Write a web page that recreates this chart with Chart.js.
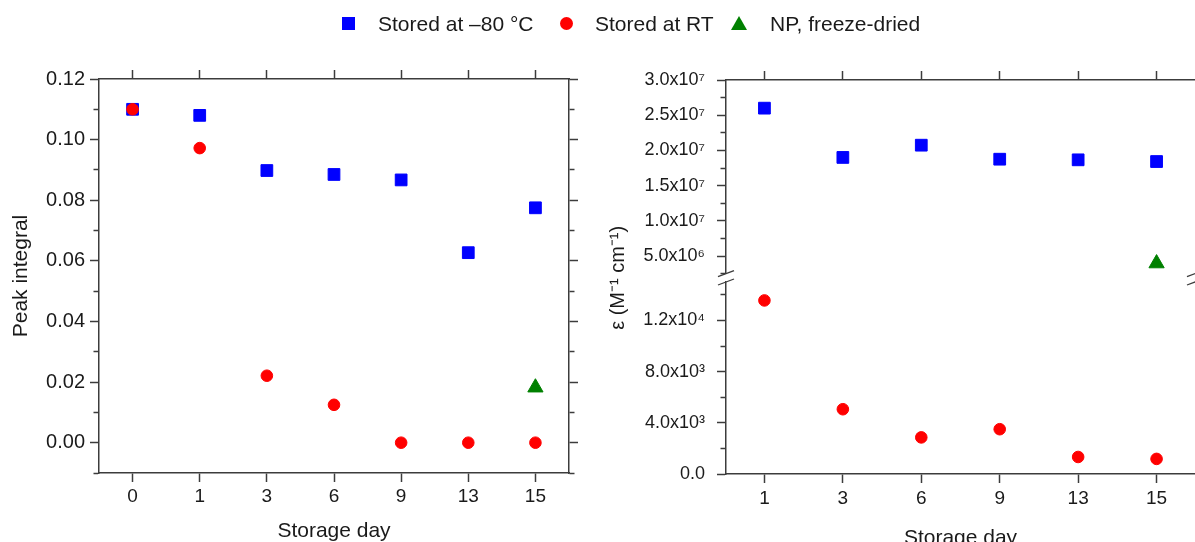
<!DOCTYPE html>
<html>
<head>
<meta charset="utf-8">
<script src="https://cdn.jsdelivr.net/npm/chart.js@4.4.1/dist/chart.umd.min.js"></script>
<style>
  body { margin: 0; background: #fff; }
  #wrap { position: relative; width: 1195px; height: 542px; overflow: hidden; font-family: "Liberation Sans", Arial, sans-serif; color: #1a1a1a; }
  canvas { position: absolute; top: 0; }
  #chartLeft { left: 0; }
  #chartRight { left: 590px; }
  .legend span { position: absolute; white-space: nowrap; }
  .legend .txt { top: 11px; font-size: 21px; line-height: 25px; }
  .legend .sq { left: 342px; top: 17px; width: 13px; height: 13px; background: #0000ff; }
  .legend .dot { left: 560px; top: 17px; width: 13px; height: 13px; border-radius: 50%; background: #ff0000; }
  .legend .tri { left: 731px; top: 16px; width: 0; height: 0; border-left: 8px solid transparent; border-right: 8px solid transparent; border-bottom: 14px solid #008000; }
</style>
</head>
<body>
<div id="wrap">
  <canvas id="chartLeft" width="590" height="542"></canvas>
  <canvas id="chartRight" width="605" height="542"></canvas>
  <div class="legend">
    <span class="sq"></span><span class="txt" style="left:378px">Stored at –80 °C</span>
    <span class="dot"></span><span class="txt" style="left:595px">Stored at RT</span>
    <span class="tri"></span><span class="txt" style="left:770px">NP, freeze-dried</span>
  </div>
</div>
<script>
// left panel: peak integral vs storage day
const leftDays = ['0', '1', '3', '6', '9', '13', '15'];
const peakStored80 = [0.110, 0.108, 0.0898, 0.0885, 0.0867, 0.0627, 0.0775];
const peakStoredRT = [0.110, 0.0972, 0.0221, 0.0125, 0, 0, 0];
const peakFreezeDried = [null, null, null, null, null, null, 0.0182];
const peakTicks = [-0.01, 0, 0.01, 0.02, 0.03, 0.04, 0.05, 0.06, 0.07, 0.08, 0.09, 0.10, 0.11, 0.12];
const peakMajor = [0, 0.02, 0.04, 0.06, 0.08, 0.10, 0.12];
const peakLabels = ['0.00', '0.02', '0.04', '0.06', '0.08', '0.10', '0.12'];

// right panel: extinction coefficient, broken axis
const rightDays = ['1', '3', '6', '9', '13', '15'];
const epsStored80 = [2.60e7, 1.90e7, 2.074e7, 1.875e7, 1.866e7, 1.842e7];
const epsStoredRT = [13560, 5060, 2860, 3500, 1330, 1180];
const epsFreezeDried = [null, null, null, null, null, 3.95e6];
const epsTopTicks = [2.5e6, 5e6, 7.5e6, 1e7, 1.25e7, 1.5e7, 1.75e7, 2e7, 2.25e7, 2.5e7, 2.75e7, 3e7];
const epsTopMajor = [5e6, 1e7, 1.5e7, 2e7, 2.5e7, 3e7];
const epsTopLabels = ['5.0x10⁶', '1.0x10⁷', '1.5x10⁷', '2.0x10⁷', '2.5x10⁷', '3.0x10⁷'];
const epsBotTicks = [0, 2000, 4000, 6000, 8000, 10000, 12000, 14000];
const epsBotMajor = [0, 4000, 8000, 12000];
const epsBotLabels = ['0.0', '4.0x10³', '8.0x10³', '1.2x10⁴'];

const axisColor = '#3c3c3c';
const textColor = '#1a1a1a';
const fontFamily = '"Liberation Sans", Arial, sans-serif';
const colors = { blue: '#0000ff', red: '#ff0000', green: '#008000' };

Chart.defaults.font.family = fontFamily;
Chart.defaults.color = textColor;

const closeTo = (a, b) => Math.abs(a - b) < Math.abs(b) * 1e-6 + 1e-9;

function labelFor(values, labels) {
    return function (value) {
        const i = values.findIndex(v => closeTo(v, value));
        return i < 0 ? '' : labels[i];
    };
}

// minor ticks are drawn shorter with a dash pattern
function minorDash(values, position) {
    return function (ctx) {
        if (!ctx.tick || values.some(v => closeTo(v, ctx.tick.value))) {
            return [];
        }
        return position === 'left' ? [0, 3.5, 6, 50] : [5, 50];
    };
}

function fixSize(size) {
    return function (scale) {
        if (scale.isHorizontal()) { scale.height = size; } else { scale.width = size; }
    };
}

const points = (values) => values
    .map((v, i) => (v === null ? null : { x: i, y: v }))
    .filter(p => p);

function series(label, values, style, color, radius, order, axis) {
    let ds = {
        label: label,
        data: points(values),
        pointStyle: style,
        pointRadius: radius,
        pointHoverRadius: radius,
        pointBackgroundColor: color,
        pointBorderColor: color,
        pointBorderWidth: 1,
        showLine: false,
        order: order
    };
    if (axis) { ds.yAxisID = axis; }
    return ds;
}

function dayAxis(position, days, min, max, size, showLabels, labelPad, titlePad) {
    return {
        type: 'linear',
        position: position,
        min: min,
        max: max,
        afterBuildTicks: (scale) => { scale.ticks = days.map((d, i) => ({ value: i })); },
        afterFit: fixSize(size),
        border: { color: axisColor, width: 1.5 },
        grid: { drawOnChartArea: false, tickLength: 9, tickColor: axisColor, tickWidth: 1.5 },
        ticks: {
            display: showLabels,
            autoSkip: false,
            maxRotation: 0,
            padding: labelPad,
            font: { size: 19 },
            callback: (value) => days[value]
        },
        title: {
            display: showLabels,
            text: 'Storage day',
            font: { size: 21 },
            padding: { top: 0, bottom: titlePad }
        }
    };
}

function valueAxis(position, min, max, tickValues, major, labels, size, tickFont, tickPad, extra) {
    let axis = {
        type: 'linear',
        position: position,
        min: min,
        max: max,
        afterBuildTicks: (scale) => { scale.ticks = tickValues.map(v => ({ value: v })); },
        afterFit: fixSize(size),
        border: { color: axisColor, width: 1.5 },
        grid: {
            drawOnChartArea: false,
            tickLength: 9,
            tickColor: axisColor,
            tickWidth: 1.5,
            tickBorderDash: minorDash(major, position)
        },
        ticks: {
            display: tickFont > 0,
            autoSkip: false,
            padding: tickPad,
            font: { size: tickFont || 12 },
            callback: labelFor(major, labels)
        }
    };
    return Object.assign(axis, extra || {});
}

const axisBreak = {
    id: 'axisBreak',
    afterDraw(chart) {
        const { ctx, chartArea, scales } = chart;
        const ys = [scales.yTop.bottom, scales.yBot.top];
        ctx.save();
        ctx.strokeStyle = axisColor;
        ctx.lineWidth = 1.3;
        [chartArea.left, chartArea.right].forEach(x => {
            ys.forEach(y => {
                ctx.beginPath();
                ctx.moveTo(x - 8, y + 3);
                ctx.lineTo(x + 8, y - 3);
                ctx.stroke();
            });
        });
        ctx.restore();
    }
};

const baseOptions = {
    responsive: false,
    animation: false,
    layout: { padding: 0, autoPadding: false },
    plugins: { legend: { display: false }, tooltip: { enabled: false } }
};

new Chart(document.getElementById('chartLeft'), {
    type: 'scatter',
    data: {
        datasets: [
            series('Stored at –80 °C', peakStored80, 'rect', colors.blue, 8.3, 1),
            series('Stored at RT', peakStoredRT, 'circle', colors.red, 5.8, 0),
            series('NP, freeze-dried', peakFreezeDried, 'triangle', colors.green, 8.8, 2)
        ]
    },
    options: Object.assign({}, baseOptions, {
        scales: {
            x: dayAxis('bottom', leftDays, -0.5, 6.5, 69, true, 3, -1.6),
            x2: dayAxis('top', leftDays, -0.5, 6.5, 79, false, 0, 0),
            y: valueAxis('left', -0.01, 0.12, peakTicks, peakMajor, peakLabels, 99, 20, 5, {
                title: { display: true, text: 'Peak integral', font: { size: 21 }, padding: { top: 8.4, bottom: 0 } }
            }),
            y2: valueAxis('right', -0.01, 0.12, peakTicks, peakMajor, peakLabels, 21, 0, 0)
        }
    })
});

new Chart(document.getElementById('chartRight'), {
    type: 'scatter',
    data: {
        datasets: [
            series('Stored at –80 °C', epsStored80, 'rect', colors.blue, 8.3, 1, 'yTop'),
            series('Stored at RT', epsStoredRT, 'circle', colors.red, 5.8, 0, 'yBot'),
            series('NP, freeze-dried', epsFreezeDried, 'triangle', colors.green, 8.8, 2, 'yTop')
        ]
    },
    options: Object.assign({}, baseOptions, {
        scales: {
            x: dayAxis('bottom', rightDays, -0.49, 5.49, 68, true, 4, -8.6),
            x2: dayAxis('top', rightDays, -0.49, 5.49, 80, false, 0, 0),
            yBot: valueAxis('left', 0, 15000, epsBotTicks, epsBotMajor, epsBotLabels, 136, 18, 12,
                { stack: 'eps', stackWeight: 192 }),
            yGap: {
                type: 'linear', position: 'left', stack: 'eps', stackWeight: 8.4, min: 0, max: 1,
                afterFit: fixSize(136),
                ticks: { display: false },
                grid: { display: false, drawTicks: false },
                border: { display: false },
                title: { display: true, text: 'ε (M⁻¹ cm⁻¹)', font: { size: 20 }, padding: { top: 16, bottom: 0 } }
            },
            yTop: valueAxis('left', 2.5e6, 3e7, epsTopTicks, epsTopMajor, epsTopLabels, 136, 18, 12,
                { stack: 'eps', stackWeight: 193.6 })
        }
    }),
    plugins: [axisBreak]
});
</script>
</body>
</html>
